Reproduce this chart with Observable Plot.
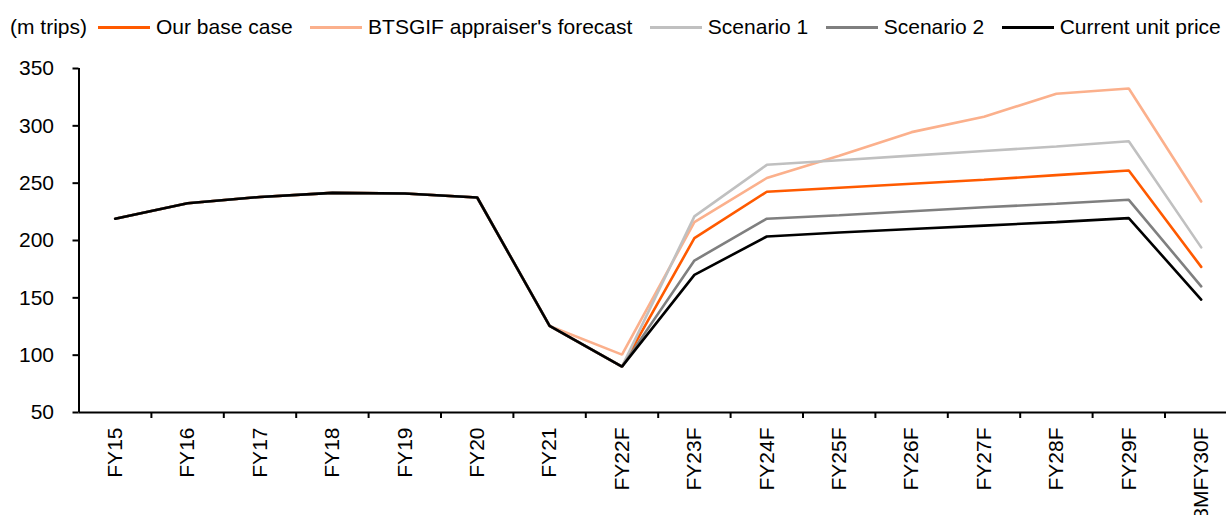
<!DOCTYPE html>
<html>
<head>
<meta charset="utf-8">
<script src="https://cdn.jsdelivr.net/npm/d3@7"></script>
<script src="https://cdn.jsdelivr.net/npm/@observablehq/plot@0.6"></script>
<style>
  html, body { margin: 0; padding: 0; background: #fff; }
  body { width: 1226px; height: 515px; overflow: hidden; font-family: "Liberation Sans", Arial, sans-serif; color: #000; }
  #legend { height: 48px; box-sizing: border-box; padding: 6px 0 0 10px; display: flex; align-items: center; font-size: 21px; white-space: nowrap; }
  #legend .unit { margin-right: 11px; }
  #legend .item { display: flex; align-items: center; margin-right: 17.5px; }
  #legend .swatch { display: inline-block; width: 52px; height: 3px; margin-right: 6px; }
</style>
</head>
<body>
<div id="legend"></div>
<div id="chart"></div>
<script>
const unitLabel = "(m trips)";
const categories = ["FY15","FY16","FY17","FY18","FY19","FY20","FY21","FY22F","FY23F","FY24F","FY25F","FY26F","FY27F","FY28F","FY29F","8MFY30F"];
const seriesNames = ["Our base case","BTSGIF appraiser's forecast","Scenario 1","Scenario 2","Current unit price"];
const seriesColors = ["#FF5A00","#FBB08C","#C0C0C0","#7F7F7F","#000000"];
const baseCase   = [219,232.5,238,241.5,241,237.5,125.5,90,202,242.5,246,249.5,253,257,261,177];
const appraiser  = [219,232.5,238,241.5,241,237.5,125.5,100.5,216,254.5,274,294.5,308,328,332.5,234];
const scenario1  = [219,232.5,238,241.5,241,237.5,125.5,90,221,266,270,274,278,282,286.5,194];
const scenario2  = [219,232.5,238,241.5,241,237.5,125.5,90,182.5,219,222,225.5,229,232,235.5,160];
const currentPx  = [219,232.5,238,241.5,241,237.5,125.5,90,170,203.5,207,210,213,216,219.5,148.5];
const yTicks = [50,100,150,200,250,300,350];

const seriesValues = [baseCase, appraiser, scenario1, scenario2, currentPx];
const data = seriesNames.flatMap((s, k) => seriesValues[k].map((v, i) => ({series: s, i, v})));

// Legend
const legend = document.getElementById("legend");
const u = document.createElement("span");
u.className = "unit"; u.textContent = unitLabel; legend.appendChild(u);
seriesNames.forEach((s, k) => {
  const it = document.createElement("span"); it.className = "item";
  const sw = document.createElement("span"); sw.className = "swatch"; sw.style.background = seriesColors[k];
  const t = document.createElement("span"); t.textContent = s;
  it.appendChild(sw); it.appendChild(t); legend.appendChild(it);
});

const n = categories.length;
const step = 72.4;
const left = 78.5;
const chart = Plot.plot({
  width: 1226,
  height: 467,
  marginLeft: left,
  marginRight: 0,
  marginTop: 20,
  marginBottom: 103,
  style: {fontFamily: "'Liberation Sans', Arial, sans-serif", fontSize: "21px", color: "#000", background: "#fff", overflow: "visible"},
  x: {type: "linear", domain: [-0.5, n - 0.5], range: [left, left + n * step]},
  y: {domain: [50, 350], range: [364, 20]},
  color: {domain: seriesNames, range: seriesColors},
  marks: [
    Plot.line(data, {x: "i", y: "v", z: "series", stroke: "series", strokeWidth: 2.6, strokeLinejoin: "miter"}),
    Plot.ruleX([-0.5], {y1: 50, y2: 350, stroke: "#000", strokeWidth: 2}),
    Plot.ruleY([50], {x1: -0.5, x2: n - 0.5, stroke: "#000", strokeWidth: 2}),
    Plot.axisY({ticks: yTicks, tickSize: 6, tickPadding: 19, strokeWidth: 2, label: null, fontSize: 21}),
    Plot.axisX(d3.range(n), {tickFormat: i => categories[i], tickSize: 0, tickPadding: 15, tickRotate: -90, label: null, fontSize: 21}),
    Plot.axisX(d3.range(1, n).map(i => i - 0.5), {tickFormat: () => "", tickSize: 6, strokeWidth: 2, label: null})
  ]
});
document.getElementById("chart").appendChild(chart);
</script>
</body>
</html>
